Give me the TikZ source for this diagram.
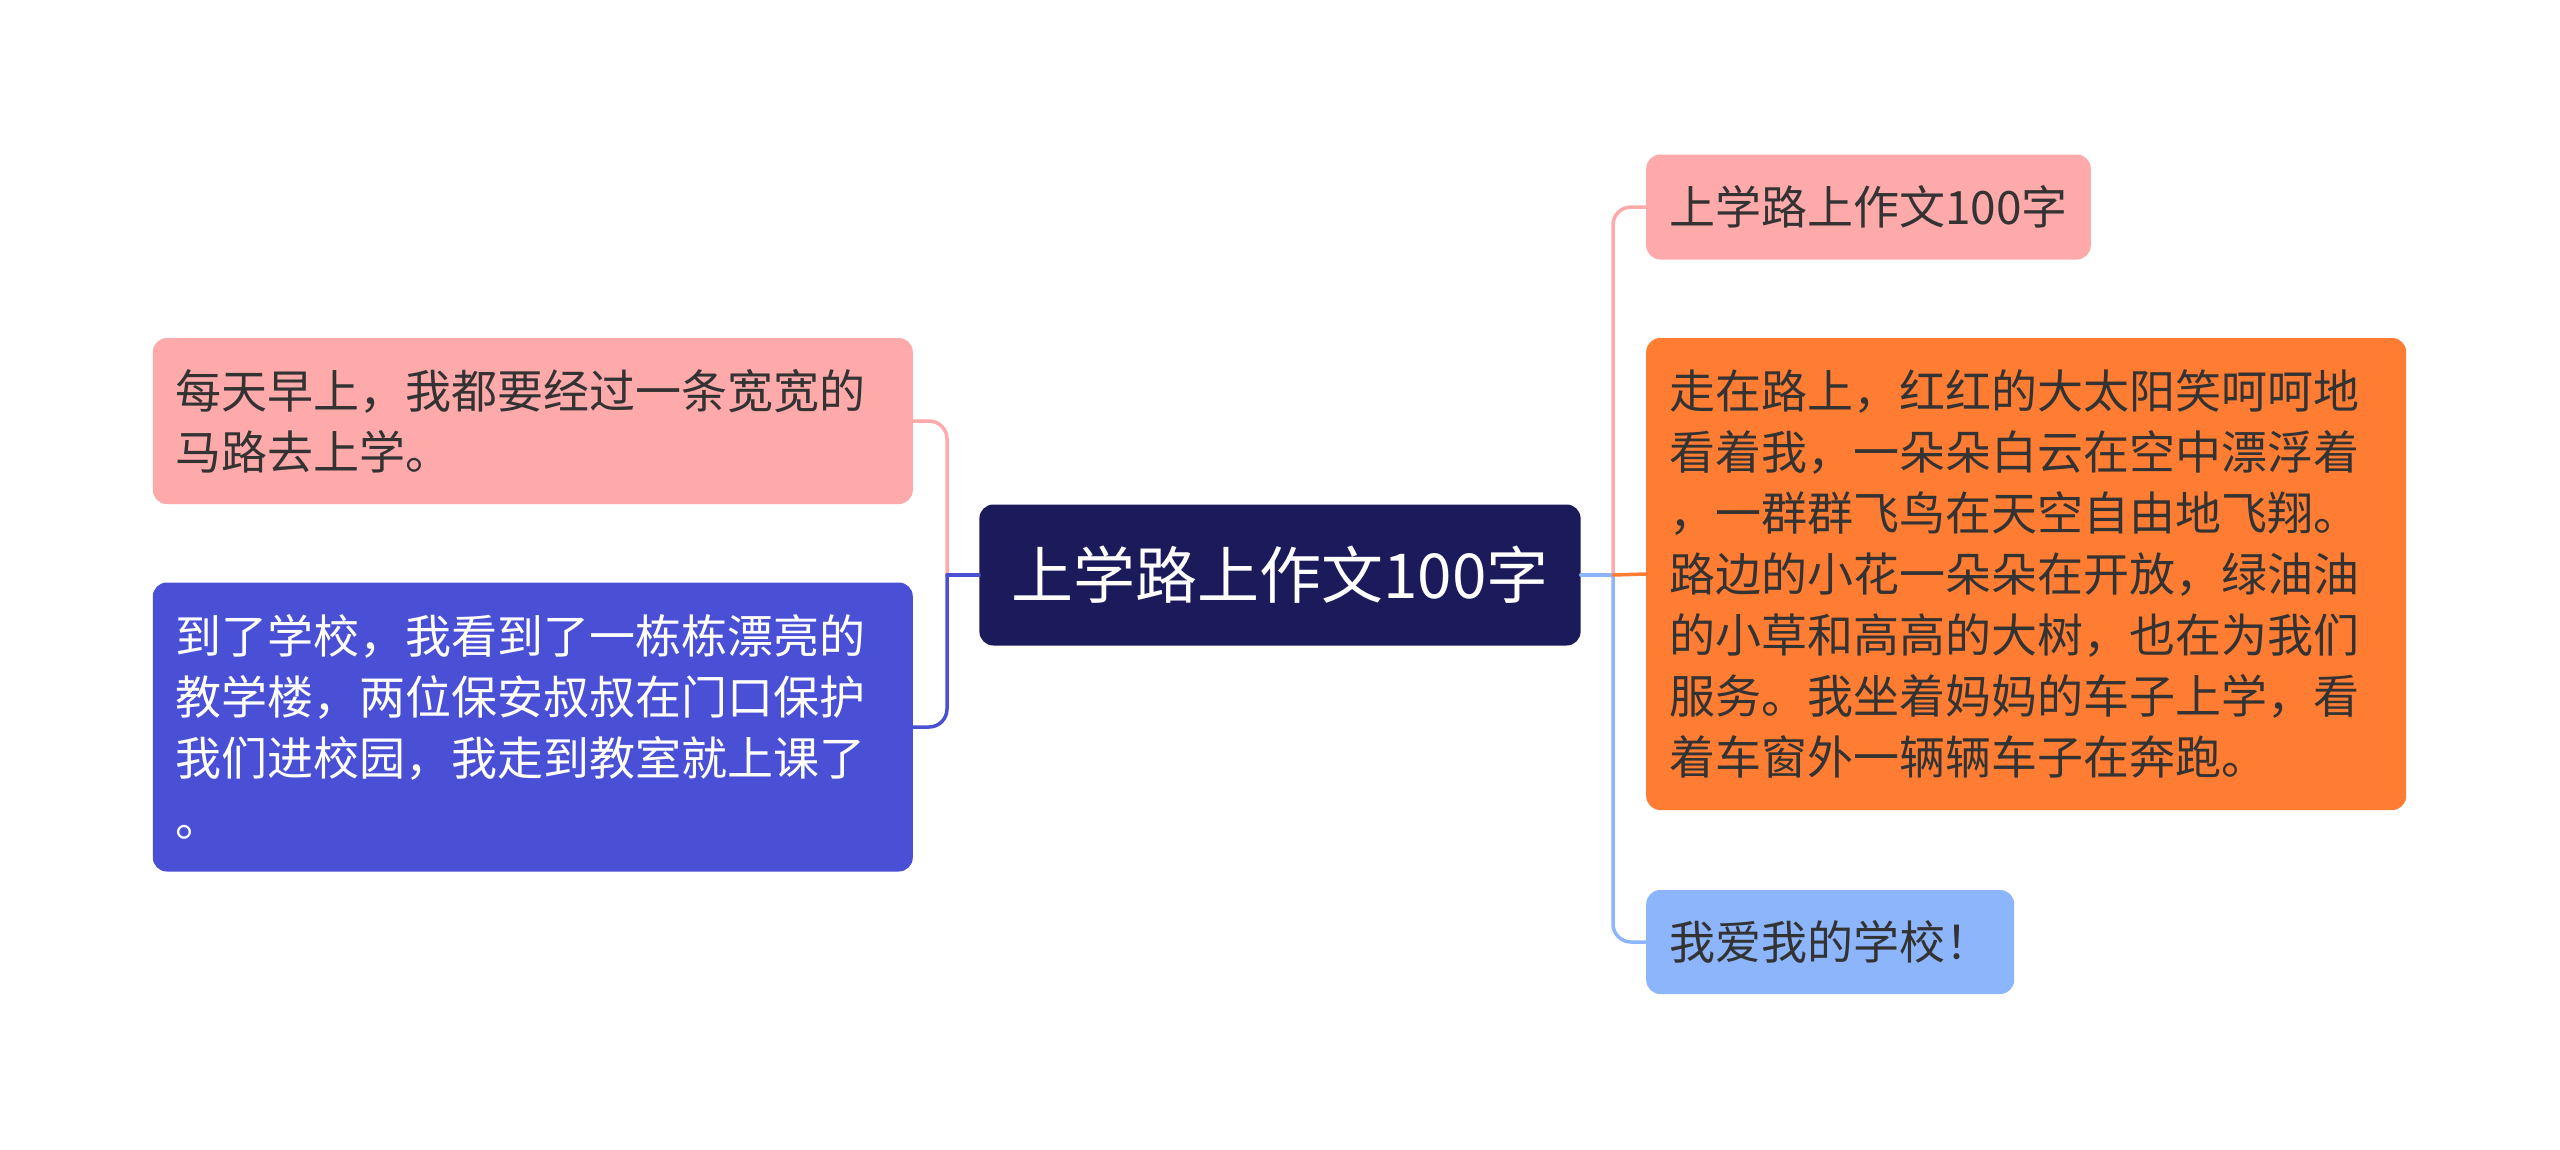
\documentclass[tikz,border=0pt]{standalone}
\usepackage{fontspec}
\newfontfamily\cjk{Noto Sans CJK SC}
\usetikzlibrary{positioning}

\definecolor{rootbg}{HTML}{1B1A5B}
\definecolor{pinkbg}{HTML}{FFAAAA}
\definecolor{bluebg}{HTML}{4A50D6}
\definecolor{orangebg}{HTML}{FF7D33}
\definecolor{skybg}{HTML}{8CB5FB}
\definecolor{ink}{HTML}{333333}

\tikzset{
  leaf/.style={rounded corners=14pt, inner xsep=23pt, inner ysep=4pt,
    align=left, text=ink, font=\cjk\fontsize{46}{61}\selectfont},
  wide/.style={text width=714pt},
  branch/.style={line width=3.5pt, line cap=round, rounded corners=18pt},
}
\newcommand{\twig}[3]{\draw[branch, color=#3] (#1) -| (#2);}

\begin{document}
\begin{tikzpicture}[x=1pt, y=-1pt]
  \useasboundingbox (0,0) rectangle (2560,1149);

  % Root
  % ====
  \node[rounded corners=14pt, fill=rootbg, text=white, inner xsep=32pt,
    minimum height=141pt, font=\cjk\fontsize{62}{70}\selectfont]
    (root) at (1280,575) {上学路上作文100字};

  % Left side
  % ---------
  \node[leaf, wide, fill=pinkbg, minimum height=166pt, anchor=east]
    (l1) at (913,421) {每天早上，我都要经过一条宽宽的\\马路去上学。};
  \node[leaf, wide, fill=bluebg, text=white, minimum height=289pt, anchor=east]
    (l2) at (913,727) {到了学校，我看到了一栋栋漂亮的\\教学楼，两位保安叔叔在门口保护\\我们进校园，我走到教室就上课了\\。};

  % Right side
  % ----------
  \node[leaf, fill=pinkbg, minimum height=105pt, anchor=west]
    (r1) at (1646,207) {上学路上作文100字};
  \node[leaf, wide, fill=orangebg, minimum height=472pt, anchor=west]
    (r2) at (1646,574) {走在路上，红红的大太阳笑呵呵地\\看着我，一朵朵白云在空中漂浮着\\，一群群飞鸟在天空自由地飞翔。\\路边的小花一朵朵在开放，绿油油\\的小草和高高的大树，也在为我们\\服务。我坐着妈妈的车子上学，看\\着车窗外一辆辆车子在奔跑。};
  \node[leaf, fill=skybg, minimum height=104pt, anchor=west]
    (r3) at (1646,942) {我爱我的学校！};

  % Branches
  % ========
  \coordinate (jl) at (947,575);
  \coordinate (jr) at (1613,575);

  \twig{l1.east}{jl}{pinkbg}
  \draw[branch, bluebg] (root.west) -- (jl);
  \draw[branch, bluebg] (jl) |- (l2.east);

  \twig{r1.west}{jr}{pinkbg}
  \draw[branch, skybg] (root.east) -- (jr);
  \draw[branch, skybg] (jr) |- (r3.west);
  \draw[branch, orangebg] (jr) -- (r2.west);

\end{tikzpicture}
\end{document}
